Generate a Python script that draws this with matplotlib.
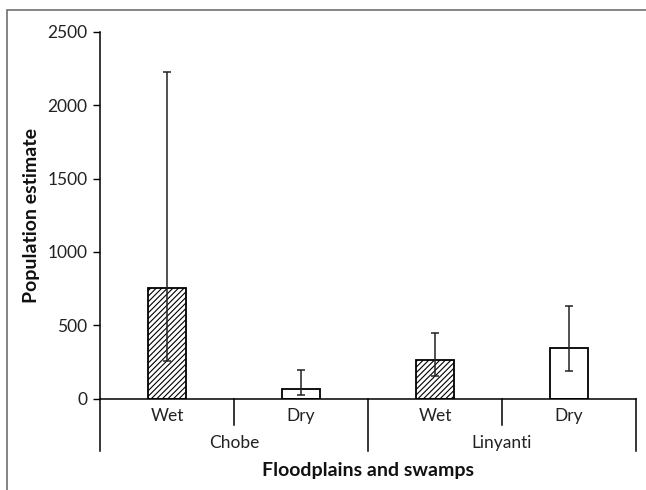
import matplotlib.pyplot as plt
import matplotlib.transforms as mtransforms
from matplotlib.patches import Rectangle
import numpy as np

plt.rcParams['font.family'] = ['Lato', 'DejaVu Sans']
plt.rcParams['hatch.linewidth'] = 0.8

seasons = ['Wet', 'Dry', 'Wet', 'Dry']
sites = ['Chobe', 'Linyanti']
estimate = np.array([757, 67, 263, 343])
ci_low = np.array([256, 26, 154, 190])
ci_high = np.array([2228, 195, 447, 634])
hatches = ['//////', '', '//////', '']

fig = plt.figure(figsize=(6.46, 4.9), dpi=100)
ax = fig.add_axes([100 / 646, 1 - 398.5 / 490, 536 / 646, 366.5 / 490])

x = np.arange(len(seasons))
for i in x:
    ax.bar(i, estimate[i], width=0.28, color='white', edgecolor='black',
           linewidth=1.3, hatch=hatches[i], zorder=2)
ax.errorbar(x, estimate, yerr=[estimate - ci_low, ci_high - estimate],
            fmt='none', ecolor='#222222', elinewidth=1.1, capsize=3,
            capthick=1.1, zorder=3)

ax.set_xlim(-0.5, 3.5)
ax.set_ylim(0, 2500)
ax.set_yticks(np.arange(0, 2501, 500))
ax.tick_params(axis='y', direction='out', length=5, width=1, labelsize=12.5,
               colors='black', labelcolor='#222222', pad=4)
ax.set_xticks([])
for s in ['top', 'right']:
    ax.spines[s].set_visible(False)
ax.spines['left'].set_linewidth(1.1)
ax.spines['bottom'].set_linewidth(1.1)

# category axis below zero line
trans = mtransforms.blended_transform_factory(ax.transData, ax.transAxes)
px = 1 / 366.5
for xs in [-0.5, 1.5, 3.5]:
    ax.plot([xs, xs], [0, -52 * px], color='black', lw=1.1,
            transform=trans, clip_on=False)
for xs in [0.5, 2.5]:
    ax.plot([xs, xs], [0, -26 * px], color='black', lw=1.1,
            transform=trans, clip_on=False)
for i, lab in enumerate(seasons):
    ax.text(i, -17 * px, lab, transform=trans, ha='center', va='center',
            fontsize=12.5, color='#222222')
for j, lab in enumerate(sites):
    ax.text(2 * j + 0.5, -44 * px, lab, transform=trans, ha='center',
            va='center', fontsize=12.5, color='#222222')
ax.text(1.5, -72 * px, 'Floodplains and swamps', transform=trans,
        ha='center', va='center', fontsize=14, fontweight='bold',
        color='#111111')

ax.set_ylabel('Population estimate', fontsize=14, fontweight='bold',
              color='#111111', labelpad=5)

# outer frame
fig.patches.append(Rectangle((7 / 646, -0.1), 1.2, 1.1 - 10 / 490,
                             transform=fig.transFigure, fill=False,
                             edgecolor='#707070', linewidth=1.2))

fig.savefig('out.png', dpi=100)
